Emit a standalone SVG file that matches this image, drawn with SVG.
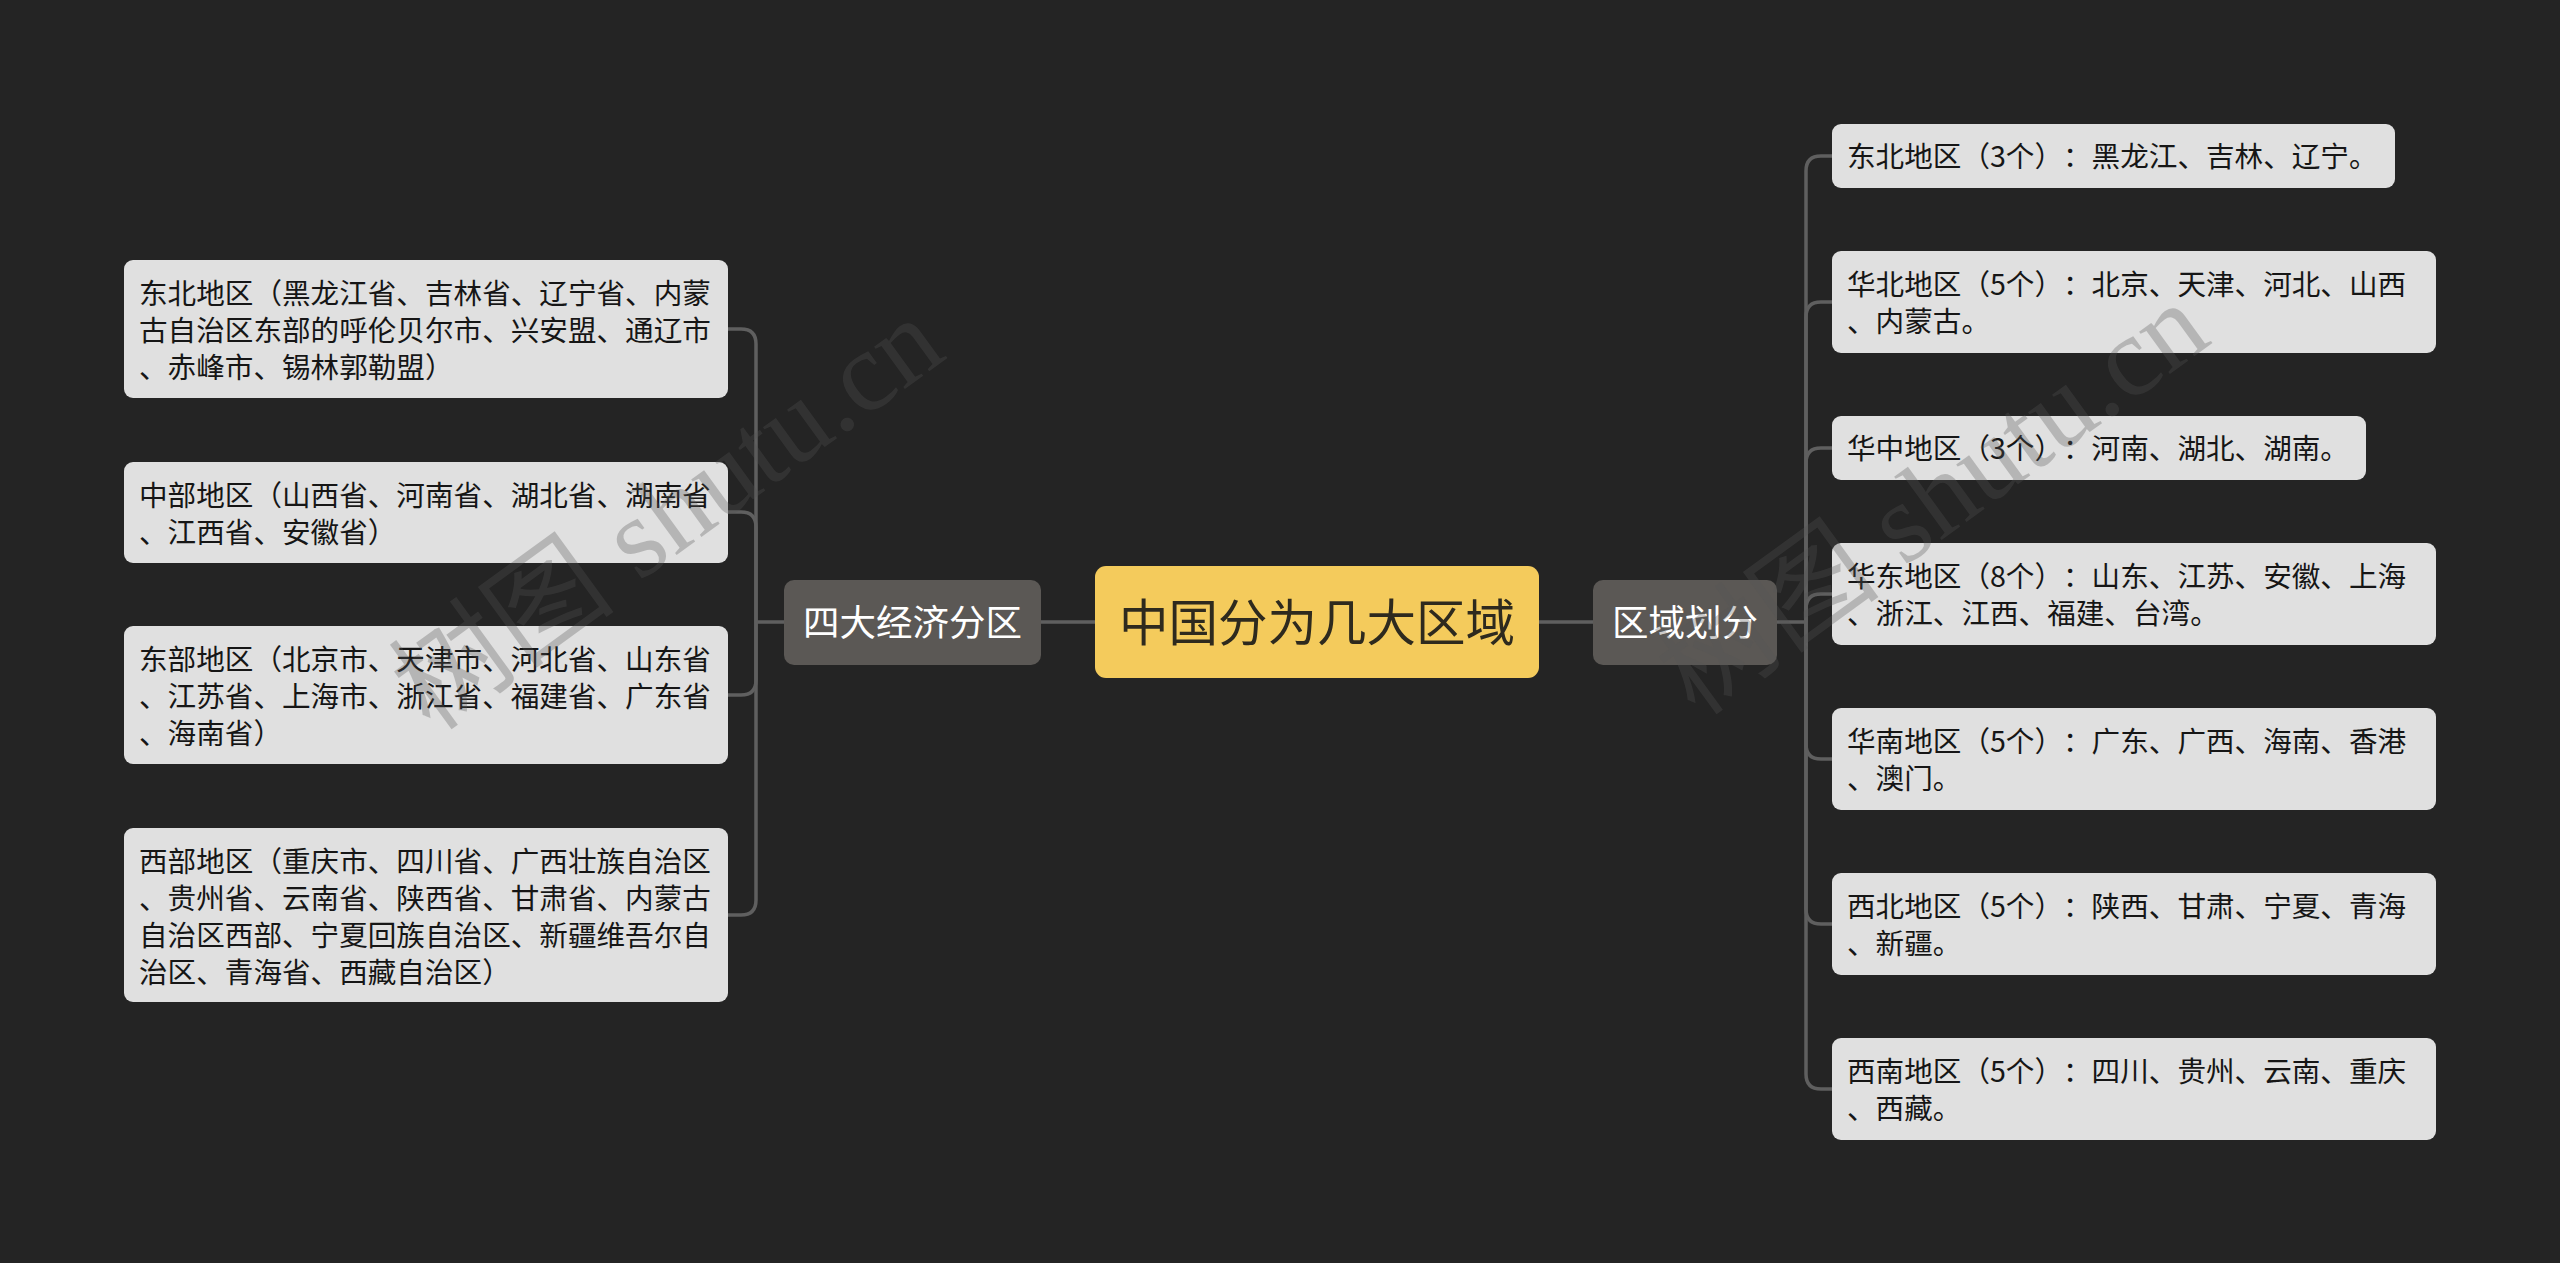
<svg xmlns="http://www.w3.org/2000/svg" width="2560" height="1263" viewBox="0 0 2560 1263">
<style>
.bg{fill:#242424}
.root rect{fill:#F4CB5C}
.root text{fill:#2e2a1e;font-size:49.5px}
.main rect{fill:#5b5855}
.main text{fill:#ffffff;font-size:36.5px}
.leaf rect{fill:#e0e0e0}
.leaf text{fill:#161616;font-size:28.6px}
text{font-family:"Noto Sans CJK SC","Noto Sans",sans-serif;text-spacing-trim:space-all}
.conn path{fill:none;stroke:#5f5f5f;stroke-width:3.5}
.wm{font-family:"Liberation Serif","Noto Sans CJK SC",serif;font-size:114px;fill:#555;opacity:0.3}
</style>
<rect class="bg" x="0" y="0" width="2560" height="1263"/>
<g id="connectors" class="conn">
<path d="M1095 622 H1041"/>
<path d="M1538 622 H1593"/>
<path d="M784 622 H756"/>
<path d="M756 622 V344 Q756 329 741 329 H728"/>
<path d="M756 622 V527 Q756 512 741 512 H728"/>
<path d="M756 622 V680 Q756 695 741 695 H728"/>
<path d="M756 622 V900 Q756 915 741 915 H728"/>
<path d="M1776 622 H1806"/>
<path d="M1806 622 V171 Q1806 156 1821 156 H1832"/>
<path d="M1806 622 V317 Q1806 302 1821 302 H1832"/>
<path d="M1806 622 V463 Q1806 448 1821 448 H1832"/>
<path d="M1806 622 V609 Q1806 594 1821 594 H1832"/>
<path d="M1806 622 V744 Q1806 759 1821 759 H1832"/>
<path d="M1806 622 V909 Q1806 924 1821 924 H1832"/>
<path d="M1806 622 V1074 Q1806 1089 1821 1089 H1832"/>
</g>
<g id="root" class="root">
<rect x="1095" y="566" width="444" height="112" rx="11"/>
<text x="1317" y="641" text-anchor="middle">中国分为几大区域</text>
</g>
<g id="main-left" class="main">
<rect x="784" y="580" width="257" height="85" rx="10"/>
<text x="912.5" y="636" text-anchor="middle">四大经济分区</text>
</g>
<g id="main-right" class="main">
<rect x="1593" y="580" width="184" height="85" rx="10"/>
<text x="1685" y="636" text-anchor="middle">区域划分</text>
</g>
<g id="L1" class="leaf">
<rect x="124" y="260" width="604" height="138" rx="9"/>
<text x="139" y="304">东北地区（黑龙江省、吉林省、辽宁省、内蒙</text>
<text x="139" y="341">古自治区东部的呼伦贝尔市、兴安盟、通辽市</text>
<text x="139" y="378">、赤峰市、锡林郭勒盟）</text>
</g>
<g id="L2" class="leaf">
<rect x="124" y="462" width="604" height="101" rx="9"/>
<text x="139" y="506">中部地区（山西省、河南省、湖北省、湖南省</text>
<text x="139" y="543">、江西省、安徽省）</text>
</g>
<g id="L3" class="leaf">
<rect x="124" y="626" width="604" height="138" rx="9"/>
<text x="139" y="670">东部地区（北京市、天津市、河北省、山东省</text>
<text x="139" y="707">、江苏省、上海市、浙江省、福建省、广东省</text>
<text x="139" y="744">、海南省）</text>
</g>
<g id="L4" class="leaf">
<rect x="124" y="828" width="604" height="174" rx="9"/>
<text x="139" y="872">西部地区（重庆市、四川省、广西壮族自治区</text>
<text x="139" y="909">、贵州省、云南省、陕西省、甘肃省、内蒙古</text>
<text x="139" y="946">自治区西部、宁夏回族自治区、新疆维吾尔自</text>
<text x="139" y="983">治区、青海省、西藏自治区）</text>
</g>
<g id="R1" class="leaf">
<rect x="1832" y="124" width="563" height="64" rx="9"/>
<text x="1847" y="167">东北地区（3个）：黑龙江、吉林、辽宁。</text>
</g>
<g id="R2" class="leaf">
<rect x="1832" y="251" width="604" height="102" rx="9"/>
<text x="1847" y="295">华北地区（5个）：北京、天津、河北、山西</text>
<text x="1847" y="332">、内蒙古。</text>
</g>
<g id="R3" class="leaf">
<rect x="1832" y="416" width="534" height="64" rx="9"/>
<text x="1847" y="459">华中地区（3个）：河南、湖北、湖南。</text>
</g>
<g id="R4" class="leaf">
<rect x="1832" y="543" width="604" height="102" rx="9"/>
<text x="1847" y="587">华东地区（8个）：山东、江苏、安徽、上海</text>
<text x="1847" y="624">、浙江、江西、福建、台湾。</text>
</g>
<g id="R5" class="leaf">
<rect x="1832" y="708" width="604" height="102" rx="9"/>
<text x="1847" y="752">华南地区（5个）：广东、广西、海南、香港</text>
<text x="1847" y="789">、澳门。</text>
</g>
<g id="R6" class="leaf">
<rect x="1832" y="873" width="604" height="102" rx="9"/>
<text x="1847" y="917">西北地区（5个）：陕西、甘肃、宁夏、青海</text>
<text x="1847" y="954">、新疆。</text>
</g>
<g id="R7" class="leaf">
<rect x="1832" y="1038" width="604" height="102" rx="9"/>
<text x="1847" y="1082">西南地区（5个）：四川、贵州、云南、重庆</text>
<text x="1847" y="1119">、西藏。</text>
</g>
<g id="watermarks">
<text class="wm" x="0" y="0" text-anchor="middle" transform="translate(690 545) rotate(-36)">树图 shutu.cn</text>
<text class="wm" x="0" y="0" text-anchor="middle" transform="translate(1955 530) rotate(-36)">树图 shutu.cn</text>
</g>
</svg>
